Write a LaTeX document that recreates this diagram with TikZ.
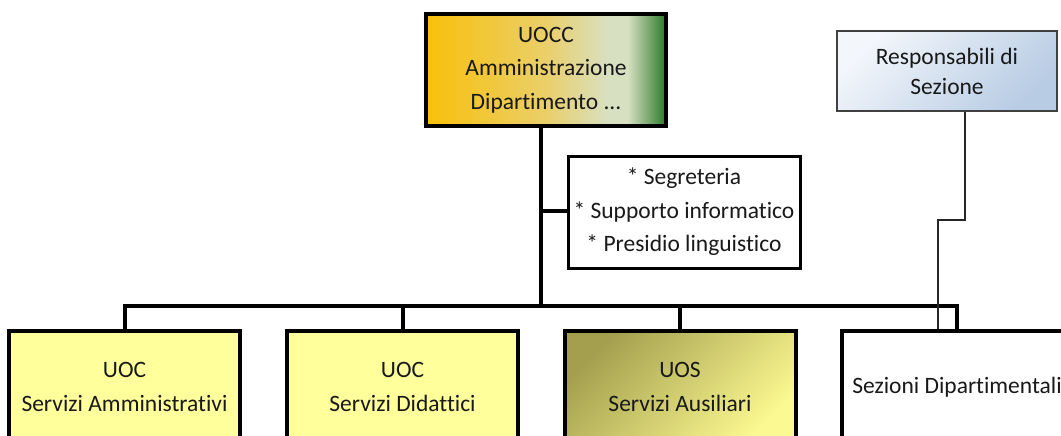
\documentclass[tikz,border=0pt]{standalone}
\usepackage{fontspec}
\setmainfont{Carlito}[Ligatures={NoCommon}]
\usetikzlibrary{positioning}
\definecolor{lyel}{HTML}{FFFF9C}
\definecolor{uorange}{HTML}{F8C00A}
\definecolor{umid}{HTML}{EACF6A}
\definecolor{upale}{HTML}{D8E0C2}
\definecolor{ugreen}{HTML}{2A7A2A}
\definecolor{bluelt}{HTML}{F3F6FB}
\definecolor{bluedk}{HTML}{B8CCE4}
\definecolor{olive}{HTML}{A49F4E}
\definecolor{olivelt}{HTML}{FBF991}
\pgfdeclarehorizontalshading{uoccshade}{100bp}{
  color(0bp)=(uorange); color(25bp)=(uorange); color(50bp)=(umid);
  color(63bp)=(upale); color(67bp)=(upale); color(75bp)=(ugreen); color(100bp)=(ugreen)}
\tikzset{
  every node/.style={font=\fontsize{23.5}{33.5}\selectfont, text=black!90},
  box/.style={draw=black, line width=4pt, minimum width=231pt, minimum height=112pt,
    inner sep=0pt, align=center},
  tree/.style={line width=4pt, draw=black},
  thin/.style={line width=1.5pt, draw=black!85},
}
\begin{document}
\begin{tikzpicture}[x=1pt,y=-1pt]
\useasboundingbox (0,0) rectangle (1061,436);
\clip (0,0) rectangle (1061,436);
\fill[white] (0,0) rectangle (1061,436);
% top node
\node[box, minimum width=240pt, shading=uoccshade] (top) at (546,70)
  {UOCC\\Amministrazione\\Dipartimento ...};
% side node
\node[box, line width=3pt, minimum width=232pt, fill=white] (side) at (684,212)
  {* Segreteria\\* Supporto informatico\\* Presidio linguistico};
% responsabili
\node[draw=black!75, line width=1.5pt, minimum width=220pt, minimum height=80pt,
  inner sep=0pt, align=center, top color=bluelt, bottom color=bluedk,
  shading angle=45, font=\fontsize{23.5}{30}\selectfont] (resp) at (947,71)
  {Responsabili di\\Sezione};
% bottom nodes
\node[box, fill=lyel] (b1) at (124.5,387) {UOC\\Servizi Amministrativi};
\node[box, fill=lyel] (b2) at (402.5,387) {UOC\\Servizi Didattici};
\node[box, top color=olive, bottom color=olivelt, shading angle=45] (b3) at (680,387)
  {UOS\\Servizi Ausiliari};
\node[box, fill=white] (b4) at (957,387) {Sezioni Dipartimentali};
% tree
\coordinate (bus) at (541,306);
\coordinate (sidej) at (541,211);
\draw[tree] (top.south -| bus) -- (bus);
\draw[tree] (sidej) -- (side.west |- sidej);
\draw[tree, line cap=rect] (b1.north |- bus) -- (b4.north |- bus);
\draw[tree] (b1.north |- bus) -- (b1.north);
\draw[tree] (b2.north |- bus) -- (b2.north);
\draw[tree] (b3.north |- bus) -- (b3.north);
\draw[tree] (b4.north |- bus) -- (b4.north);
% responsabili connector
\coordinate (rj1) at (965,220);
\coordinate (rj2) at (938,220);
\draw[thin] (resp.south -| rj1) -- (rj1) -- (rj2) -- (rj2 |- b4.north);
\end{tikzpicture}
\end{document}
